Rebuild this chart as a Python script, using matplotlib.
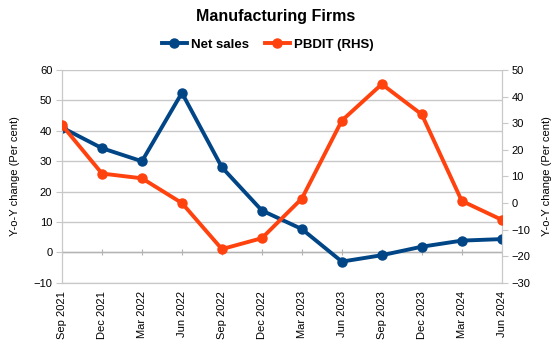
import matplotlib.pyplot as plt
import matplotlib.lines as mlines

plt.rcParams['font.family'] = ['Liberation Sans', 'DejaVu Sans']

quarters = ["Sep 2021", "Dec 2021", "Mar 2022", "Jun 2022", "Sep 2022", "Dec 2022",
            "Mar 2023", "Jun 2023", "Sep 2023", "Dec 2023", "Mar 2024", "Jun 2024"]
net_sales = [41.1, 34.3, 30.0, 52.5, 28.0, 13.8, 7.7, -3.0, -0.9, 1.9, 3.9, 4.4]
pbdit = [29.3, 11.1, 9.3, 0.0, -17.3, -13.2, 1.7, 31.0, 44.7, 33.3, 0.8, -6.3]

left_ticks = list(range(-10, 61, 10))
right_ticks = list(range(-30, 51, 10))

blue = "#004586"
orange = "#ff420e"
grid_c = "#c8c8c8"

fig = plt.figure(figsize=(5.52, 3.4), dpi=100)
ax = fig.add_axes([0.1123, 0.168, 0.7967, 0.626])
ax2 = ax.twinx()

x = list(range(len(quarters)))

# horizontal grid from the left axis
ax.set_ylim(-10, 60)
ax.set_yticks(left_ticks)
ax.yaxis.grid(True, color=grid_c, linewidth=1)
ax.set_axisbelow(True)
ax.axhline(0, color="#b3b3b3", linewidth=1, zorder=1)
ax.plot(x, [0] * len(x), linestyle="none", marker="|", markersize=5,
        color="#b3b3b3", markeredgewidth=0.8, zorder=1)

ax.plot(x, net_sales, color=blue, linewidth=2.8, marker="o", markersize=6.5, zorder=4)
ax2.plot(x, pbdit, color=orange, linewidth=2.8, marker="o", markersize=6.5, zorder=4)
ax2.set_ylim(-30, 50)
ax2.set_yticks(right_ticks)

ax.set_xlim(0, len(x) - 1)
ax.set_xticks(x)
ax.set_xticklabels(quarters, rotation=90, fontsize=8)
ax.tick_params(axis="x", length=0, pad=6)
ax.tick_params(axis="y", labelsize=8, length=4, color=grid_c, pad=3)
ax2.tick_params(axis="y", labelsize=8, length=4, color=grid_c, pad=3)

for a in (ax, ax2):
    for s in a.spines.values():
        s.set_color(grid_c)
    a.spines["top"].set_visible(False)

ax.set_ylabel("Y-o-Y change (Per cent)", fontsize=8, labelpad=10)
ax2.set_ylabel("Y-o-Y change (Per cent)", fontsize=8, rotation=90, labelpad=12,
               va="center")

fig.suptitle("Manufacturing Firms", fontsize=11.5, fontweight="bold", x=0.5, y=0.975)

h1 = mlines.Line2D([], [], color=blue, linewidth=2.8, marker="o", markersize=6.5)
h2 = mlines.Line2D([], [], color=orange, linewidth=2.8, marker="o", markersize=6.5)
fig.legend([h1, h2], ["Net sales", "PBDIT (RHS)"], loc="center", bbox_to_anchor=(0.485, 0.868),
           ncol=2, frameon=False, prop={"weight": "bold", "size": 9.5},
           handlelength=1.9, handletextpad=0.3, columnspacing=1.2)

fig.savefig("out.png", dpi=100)
